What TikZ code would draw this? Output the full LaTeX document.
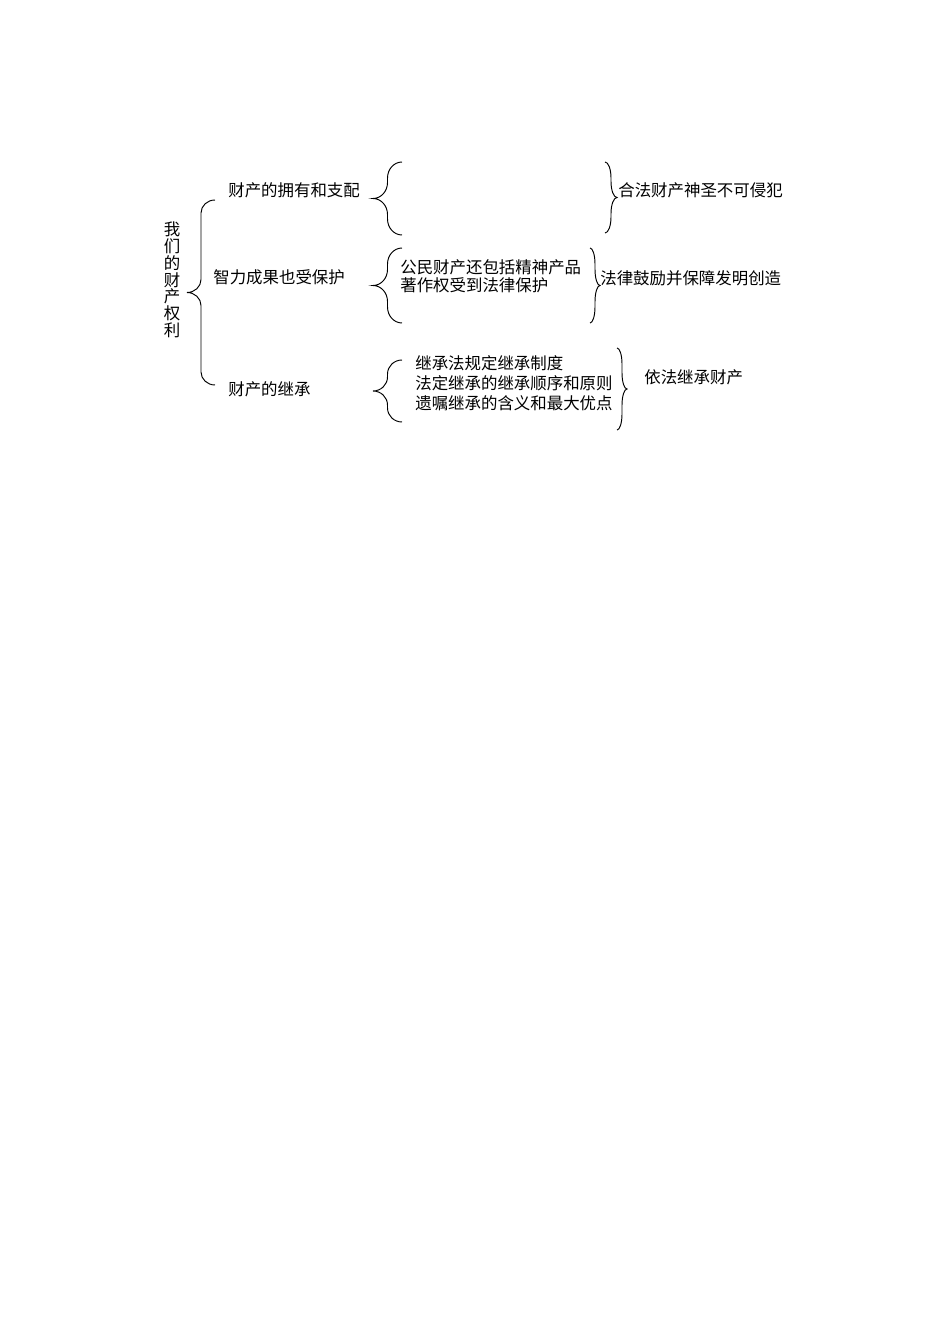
\documentclass[tikz,border=0pt]{standalone}
\usepackage{fontspec}
\newfontfamily\cjk{Noto Sans CJK SC}
\usetikzlibrary{positioning}

\tikzset{
  lbl/.style={inner sep=0pt, anchor=west, align=left, font=\cjk\fontsize{10.3}{12.5}\selectfont},
  brc/.style={draw, line width=0.6pt}
}
% curly brace: tip x, top y, bottom y, width (negative = closing), end radius
\newcommand{\curly}[5]{%
  \pgfmathsetmacro\bxe{#1+#4}\pgfmathsetmacro\bxm{#1+#4/2}\pgfmathsetmacro\bym{(#2+#3)/2}%
  \pgfmathsetmacro\bk{0.552*#4/2}\pgfmathsetmacro\bkr{0.552*#5}%
  \draw[brc] (\bxe,#2) .. controls ({\bxe-\bk},#2) and (\bxm,{#2+#5-\bkr}) .. (\bxm,{#2+#5})
    -- (\bxm,{\bym-#5}) .. controls (\bxm,{\bym-#5+\bkr}) and ({#1+\bk},\bym) .. (#1,\bym)
    .. controls ({#1+\bk},\bym) and (\bxm,{\bym+#5-\bkr}) .. (\bxm,{\bym+#5})
    -- (\bxm,{#3-#5}) .. controls (\bxm,{#3-#5+\bkr}) and ({\bxe-\bk},#3) .. (\bxe,#3);%
}

\begin{document}
\begin{tikzpicture}[x=0.6265pt, y=-0.6265pt]
  \useasboundingbox (0,0) rectangle (950,1344);

  \node (root) [inner sep=0pt, align=center, font=\cjk\fontsize{10.3}{10.5}\selectfont] at (172,280) {我\\们\\的\\财\\产\\权\\利};
  \curly{187}{200}{385}{28}{13}

  \node (own) [lbl] at (228,190) {财产的拥有和支配};
  \node (intel) [lbl] at (213,277) {智力成果也受保护};
  \node (inherit) [lbl] at (228,389) {财产的继承};

  % first row
  \curly{373}{162}{235}{29}{16}
  \curly{617}{162}{233}{-12}{16}
  \node (ownres) [lbl] at (618,190) {合法财产神圣不可侵犯};

  % second row
  \curly{373}{248}{323}{29}{16}
  \node (intelsub) [lbl, font=\cjk\fontsize{10.3}{11.3}\selectfont] at (400,276) {公民财产还包括精神产品\\著作权受到法律保护};
  \curly{600}{248}{323}{-10}{16}
  \node (intelres) [lbl] at (600,278) {法律鼓励并保障发明创造};

  % third row
  \curly{373}{360}{422}{29}{14}
  \node (inheritsub) [lbl] at (415,383) {继承法规定继承制度\\法定继承的继承顺序和原则\\遗嘱继承的含义和最大优点};
  \curly{627}{348}{430}{-10}{16}
  \node (inheritres) [lbl] at (644,377) {依法继承财产};
\end{tikzpicture}
\end{document}
